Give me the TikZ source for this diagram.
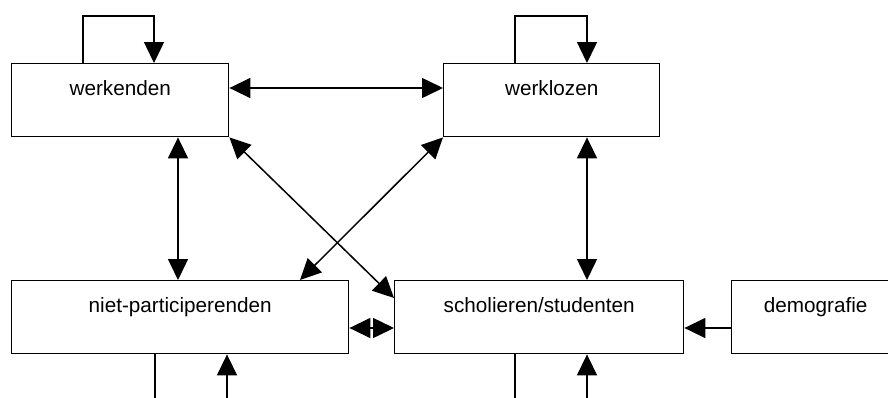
\documentclass[tikz,border=0pt]{standalone}
\usepackage{fontspec}
\setmainfont{Liberation Sans}
\usetikzlibrary{arrows.meta}
\begin{document}
\begin{tikzpicture}[x=1pt,y=-1pt,
  box/.style={draw, line width=1.4pt, rectangle, inner xsep=0pt, inner ysep=0pt,
    text height=32pt, text depth=41pt, minimum height=73pt, anchor=north west,
    font=\fontsize{20.7}{24}\selectfont},
  conn/.style={line width=1.5pt},
  tip/.tip={Triangle[length=21pt,width=20pt]},
  onehead/.style={conn,-tip},
  twohead/.style={conn,tip-tip}]
\clip (0,0) rectangle (888,397);
\fill[white] (0,0) rectangle (888,397);
% boxes
\node[box, minimum width=217pt] (wk) at (11,63) {werkenden};
\node[box, minimum width=216pt] (wl) at (443,63) {werklozen};
\node[box, minimum width=337pt] (np) at (11,280) {niet-participerenden};
\node[box, minimum width=289pt] (st) at (394,280) {scholieren/studenten};
\node[box, minimum width=168pt] (dm) at (731,280) {demograf\kern0pt ie};
% free ends
\coordinate (wkloopA) at (83,16);
\coordinate (wkloopB) at (154,16);
\coordinate (wlloopA) at (515,16);
\coordinate (wlloopB) at (587,16);
\coordinate (npoutA) at (155,405);
\coordinate (npinB) at (227,405);
\coordinate (stoutA) at (515,405);
\coordinate (stinB) at (587,405);
% self loops
\draw[onehead] (wk.north -| wkloopA) -- (wkloopA) -- (wkloopB) -- (wk.north -| wkloopB);
\draw[onehead] (wl.north -| wlloopA) -- (wlloopA) -- (wlloopB) -- (wl.north -| wlloopB);
% bottom loops (cut off)
\draw[conn] (np.south -| npoutA) -- (npoutA);
\draw[onehead] (npinB) -- (np.south -| npinB);
\draw[conn] (st.south -| stoutA) -- (stoutA);
\draw[onehead] (stinB) -- (st.south -| stinB);
% connectors
\draw[twohead] (wk.east |- 0,88) -- (wl.west |- 0,88);
\draw[twohead] (wk.south -| 178,0) -- (np.north -| 178,0);
\draw[twohead] (wl.south -| 587,0) -- (st.north -| 587,0);
\draw[twohead] (wk.south east) -- (st.west |- 0,298);
\draw[twohead] (wl.south west) -- (np.north -| 300,0);
\draw[twohead] (np.east |- 0,328) -- (st.west |- 0,328);
\draw[onehead] (dm.west |- 0,328) -- (st.east |- 0,328);
\end{tikzpicture}
\end{document}
